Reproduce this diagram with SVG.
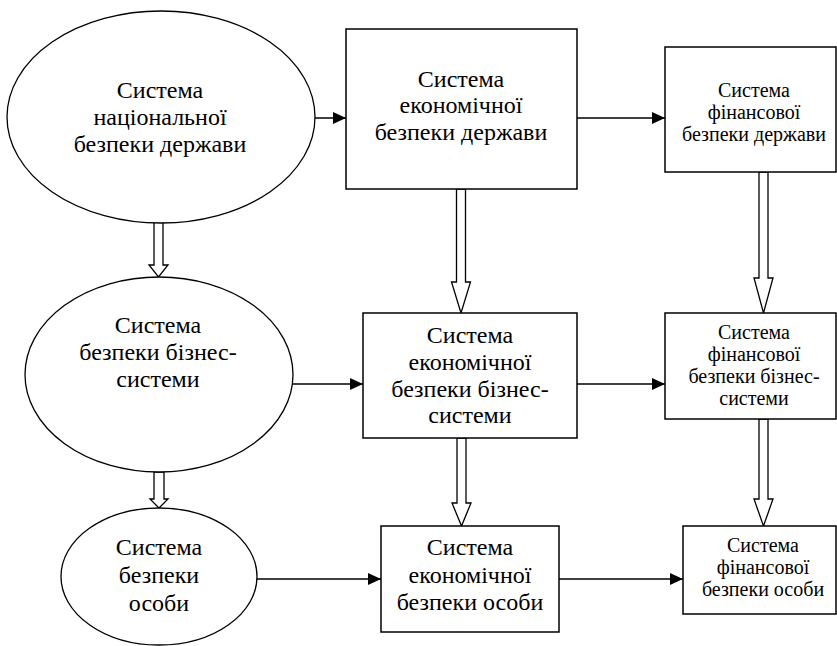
<svg xmlns="http://www.w3.org/2000/svg" width="837" height="646" viewBox="0 0 837 646">
<defs>
<marker id="ah" markerUnits="userSpaceOnUse" markerWidth="14" markerHeight="12" refX="13" refY="6" orient="auto">
<path d="M0,0 L13,6 L0,12 z" fill="#000"/>
</marker>
</defs>
<rect width="837" height="646" fill="#fff"/>
<g id="connectors" fill="none" stroke="#000" stroke-width="1.5">
<line x1="311" y1="118" x2="346" y2="118" marker-end="url(#ah)"/>
<line x1="577" y1="118" x2="665" y2="118" marker-end="url(#ah)"/>
<line x1="293" y1="384" x2="363" y2="384" marker-end="url(#ah)"/>
<line x1="577" y1="384" x2="665" y2="384" marker-end="url(#ah)"/>
<line x1="257" y1="579" x2="381" y2="579" marker-end="url(#ah)"/>
<line x1="559" y1="579" x2="683" y2="579" marker-end="url(#ah)"/>
<g fill="#fff" stroke-width="1.3">
<polygon points="154,222 163,222 163,265 168,265 158.5,277 149,265 154,265"/>
<polygon points="154,472 164,472 164,499 168,499 159,508 150,499 154,499"/>
<polygon points="456.5,189 465.5,189 465.5,282 470.5,282 461,313 451.5,282 456.5,282"/>
<polygon points="759,172 768,172 768,278 773,278 763.5,313 754,278 759,278"/>
<polygon points="457,438 466,438 466,503 471,503 461.5,526 452,503 457,503"/>
<polygon points="759,419 768,419 768,499 773,499 763.5,526 754,499 759,499"/>
</g>
</g>
<g id="n1">
<ellipse cx="161" cy="117" rx="154" ry="106" fill="#fff" stroke="#000" stroke-width="1.3"/>
<text x="160" y="98" font-family="Liberation Serif" font-size="24" text-anchor="middle">Система</text>
<text x="160" y="125" font-family="Liberation Serif" font-size="24" text-anchor="middle">національної</text>
<text x="160" y="152" font-family="Liberation Serif" font-size="24" text-anchor="middle">безпеки держави</text>
</g>
<g id="n2">
<rect x="346" y="29" width="231" height="160" fill="#fff" stroke="#000" stroke-width="1.5"/>
<text x="461" y="87" font-family="Liberation Serif" font-size="24" text-anchor="middle">Система</text>
<text x="461" y="113" font-family="Liberation Serif" font-size="24" text-anchor="middle">економічної</text>
<text x="461" y="140" font-family="Liberation Serif" font-size="24" text-anchor="middle">безпеки держави</text>
</g>
<g id="n3">
<rect x="665" y="47" width="171" height="125" fill="#fff" stroke="#000" stroke-width="1.5"/>
<text x="754" y="97" font-family="Liberation Serif" font-size="20" text-anchor="middle">Система</text>
<text x="754" y="119" font-family="Liberation Serif" font-size="20" text-anchor="middle">фінансової</text>
<text x="754" y="141" font-family="Liberation Serif" font-size="20" text-anchor="middle">безпеки держави</text>
</g>
<g id="n4">
<ellipse cx="159" cy="374.5" rx="134" ry="97.5" fill="#fff" stroke="#000" stroke-width="1.3"/>
<text x="158" y="333" font-family="Liberation Serif" font-size="24" text-anchor="middle">Система</text>
<text x="158" y="360" font-family="Liberation Serif" font-size="24" text-anchor="middle">безпеки бізнес-</text>
<text x="158" y="387" font-family="Liberation Serif" font-size="24" text-anchor="middle">системи</text>
</g>
<g id="n5">
<rect x="363" y="313" width="214" height="125" fill="#fff" stroke="#000" stroke-width="1.5"/>
<text x="470" y="343" font-family="Liberation Serif" font-size="24" text-anchor="middle">Система</text>
<text x="470" y="370" font-family="Liberation Serif" font-size="24" text-anchor="middle">економічної</text>
<text x="470" y="397" font-family="Liberation Serif" font-size="24" text-anchor="middle">безпеки бізнес-</text>
<text x="470" y="423" font-family="Liberation Serif" font-size="24" text-anchor="middle">системи</text>
</g>
<g id="n6">
<rect x="665" y="313" width="171" height="106" fill="#fff" stroke="#000" stroke-width="1.5"/>
<text x="754" y="339" font-family="Liberation Serif" font-size="20" text-anchor="middle">Система</text>
<text x="754" y="361" font-family="Liberation Serif" font-size="20" text-anchor="middle">фінансової</text>
<text x="754" y="383" font-family="Liberation Serif" font-size="20" text-anchor="middle">безпеки бізнес-</text>
<text x="754" y="405" font-family="Liberation Serif" font-size="20" text-anchor="middle">системи</text>
</g>
<g id="n7">
<ellipse cx="159" cy="576.5" rx="98" ry="68.5" fill="#fff" stroke="#000" stroke-width="1.3"/>
<text x="159" y="555" font-family="Liberation Serif" font-size="24" text-anchor="middle">Система</text>
<text x="159" y="583" font-family="Liberation Serif" font-size="24" text-anchor="middle">безпеки</text>
<text x="159" y="611" font-family="Liberation Serif" font-size="24" text-anchor="middle">особи</text>
</g>
<g id="n8">
<rect x="381" y="526" width="178" height="106" fill="#fff" stroke="#000" stroke-width="1.5"/>
<text x="470" y="555" font-family="Liberation Serif" font-size="24" text-anchor="middle">Система</text>
<text x="470" y="583" font-family="Liberation Serif" font-size="24" text-anchor="middle">економічної</text>
<text x="470" y="610" font-family="Liberation Serif" font-size="24" text-anchor="middle">безпеки особи</text>
</g>
<g id="n9">
<rect x="683" y="526" width="153" height="88" fill="#fff" stroke="#000" stroke-width="1.5"/>
<text x="763" y="552" font-family="Liberation Serif" font-size="20" text-anchor="middle">Система</text>
<text x="763" y="574" font-family="Liberation Serif" font-size="20" text-anchor="middle">фінансової</text>
<text x="763" y="596" font-family="Liberation Serif" font-size="20" text-anchor="middle">безпеки особи</text>
</g>
</svg>
